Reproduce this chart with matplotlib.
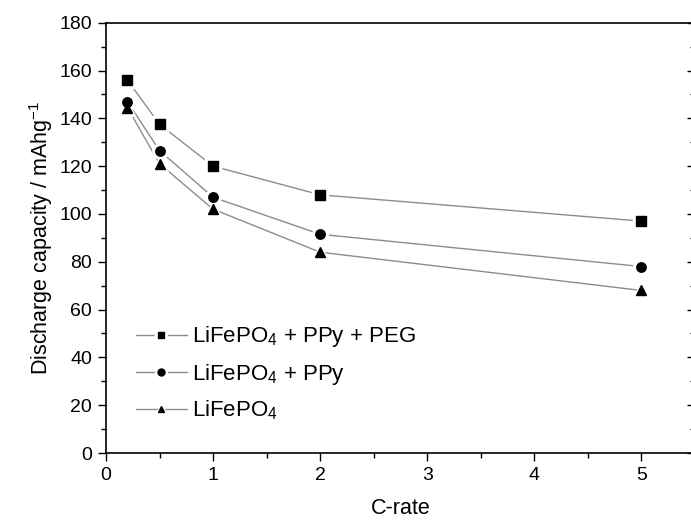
import matplotlib
matplotlib.use('Agg')
import matplotlib.pyplot as plt
from matplotlib.ticker import MultipleLocator
from matplotlib.legend_handler import HandlerTuple
from matplotlib.lines import Line2D, TICKLEFT

plt.rcParams['font.family'] = ['Liberation Sans', 'DejaVu Sans']
plt.rcParams['mathtext.fontset'] = 'custom'
plt.rcParams['mathtext.rm'] = 'Liberation Sans'
plt.rcParams['mathtext.it'] = 'Liberation Sans'

# data
c_rate = [0.2, 0.5, 1, 2, 5]
cap_ppy_peg = [156, 137.5, 120, 108, 97]
cap_ppy = [147, 126.5, 107, 91.5, 78]
cap_lfp = [144.5, 121, 102, 84, 68]
labels = ['LiFePO$_4$ + PPy + PEG', 'LiFePO$_4$ + PPy', 'LiFePO$_4$']
markers = ['s', 'o', '^']

fig = plt.figure(figsize=(6.91, 5.2), dpi=100)
ax = fig.add_axes([106 / 691, 67 / 520, 588.8 / 691, 430.3 / 520])

for vals, mk in zip([cap_ppy_peg, cap_ppy, cap_lfp], markers):
    ax.plot(c_rate, vals, color='#8c8c8c', lw=1.0, zorder=2)
    # white halo gives the small gap between line and marker
    ax.plot(c_rate, vals, ls='none', marker=mk, ms=11, mfc='white',
            mec='white', zorder=3)
    ax.plot(c_rate, vals, ls='none', marker=mk, ms=6.8, color='black',
            zorder=4)

ax.set_xlim(0, 5.5)
ax.set_ylim(0, 180)
ax.xaxis.set_major_locator(MultipleLocator(1))
ax.xaxis.set_minor_locator(MultipleLocator(0.5))
ax.yaxis.set_major_locator(MultipleLocator(20))
ax.yaxis.set_minor_locator(MultipleLocator(10))
ax.tick_params(axis='both', which='major', direction='out', length=6,
               width=1, labelsize=14, pad=4)
ax.tick_params(axis='both', which='minor', direction='out', length=3.5,
               width=1)
ax.tick_params(axis='y', which='both', right=True, labelright=False)
for sp in ax.spines.values():
    sp.set_linewidth(1.2)

# right ticks point inward
for t in ax.yaxis.get_major_ticks() + ax.yaxis.get_minor_ticks():
    t.tick2line.set_marker(TICKLEFT)

ax.set_xlabel('C-rate', fontsize=15.5, labelpad=10)
ax.set_ylabel('Discharge capacity / mAhg$^{-1}$', fontsize=15.5, labelpad=3)

leg_handles = []
for mk in markers:
    ln = Line2D([], [], color='#8c8c8c', lw=1.0)
    halo = Line2D([], [], ls='none', marker=mk, ms=8.5, mfc='white', mec='white')
    dot = Line2D([], [], ls='none', marker=mk, ms=5, color='black')
    leg_handles.append((ln, halo, dot))
ax.legend(leg_handles, labels, handler_map={tuple: HandlerTuple(ndivide=1)},
          loc='lower left', bbox_to_anchor=(0.028, 0.04), frameon=False,
          fontsize=16, handlelength=2.3, handletextpad=0.25, labelspacing=0.55,
          borderaxespad=0.2)

fig.savefig('out.png', dpi=100)
